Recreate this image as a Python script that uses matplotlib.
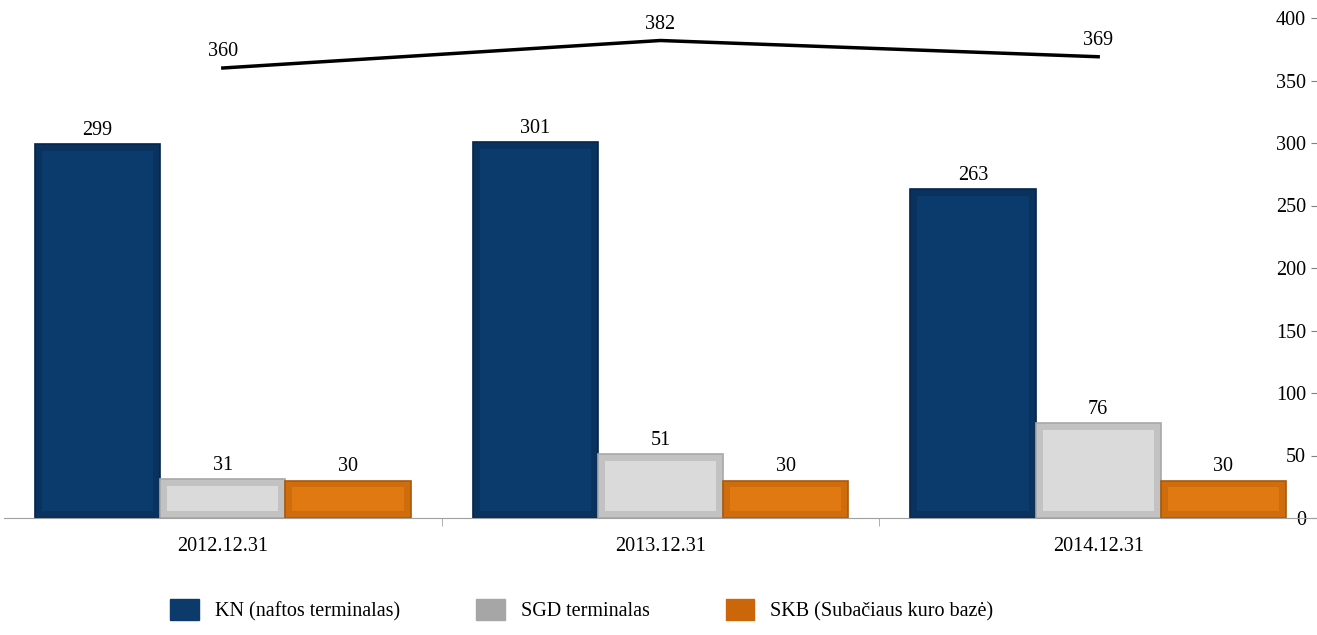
import matplotlib.pyplot as plt
from matplotlib.patches import Patch
import numpy as np

plt.rcParams['font.family'] = ['Liberation Serif', 'DejaVu Serif']

dates = ['2012.12.31', '2013.12.31', '2014.12.31']
kn = [299, 301, 263]
sgd = [31, 51, 76]
skb = [30, 30, 30]
total = [360, 382, 369]
names = ['KN (naftos terminalas)', 'SGD terminalas', 'SKB (Subačiaus kuro bazė)']

fs = 14.5
x = np.arange(len(dates))
w = 0.286
bx, by = 0.016, 5.5  # bevel size (x in category units, y in value units)

fig = plt.figure(figsize=(13.17, 6.35), dpi=100)
ax = fig.add_axes([4/1317, 117/635, 1313/1317, 500/635])

# outer colour, inner (face) colour, edge colour
series = [(kn, -w, '#09325F', '#0B3A6C', '#05254A'),
          (sgd, 0, '#C2C2C2', '#DADADA', '#A8A8A8'),
          (skb, w, '#CF6C0C', '#E07912', '#A85A0C')]
for vals, off, oc, fc, ec in series:
    vals = np.array(vals)
    bars = ax.bar(x + off, vals, w, color=oc, edgecolor=ec, linewidth=1.2, zorder=2)
    ax.bar(x + off, vals - 2 * by, w - 2 * bx, bottom=by, color=fc, linewidth=0, zorder=3)
    ax.bar_label(bars, padding=3, fontsize=fs)

ax.plot(x, total, color='black', linewidth=2.5, zorder=4)
for xi, t in zip(x, total):
    ax.annotate(str(t), (xi, t), xytext=(0, 5), textcoords='offset points',
                ha='center', va='bottom', fontsize=fs)

ax.set_xlim(-0.5, 2.5)
ax.set_ylim(0, 400)
ax.set_xticks(x)
ax.set_xticklabels(dates, fontsize=fs)
ax.set_xticks([0.5, 1.5], minor=True)
ax.tick_params(axis='x', which='major', length=0, pad=14)
ax.tick_params(axis='x', which='minor', length=6, color='#A0A0A0')

ax.yaxis.tick_right()
ax.set_yticks(range(0, 401, 50))
ax.tick_params(axis='y', direction='in', length=4, color='#808080',
               pad=-8, labelsize=fs)
for lbl in ax.get_yticklabels():
    lbl.set_horizontalalignment('right')

for s in ['top', 'left', 'right']:
    ax.spines[s].set_visible(False)
ax.spines['bottom'].set_color('#A0A0A0')

handles = [Patch(color='#0C3A6B'), Patch(color='#A6A6A6'), Patch(color='#CC660A')]
fig.legend(handles, names, loc='center', bbox_to_anchor=(582/1317, 1 - 610/635),
           ncol=3, frameon=False, fontsize=fs, handlelength=1.4, handleheight=1.2,
           handletextpad=0.8, columnspacing=3.8)

fig.savefig('out.png', dpi=100)
